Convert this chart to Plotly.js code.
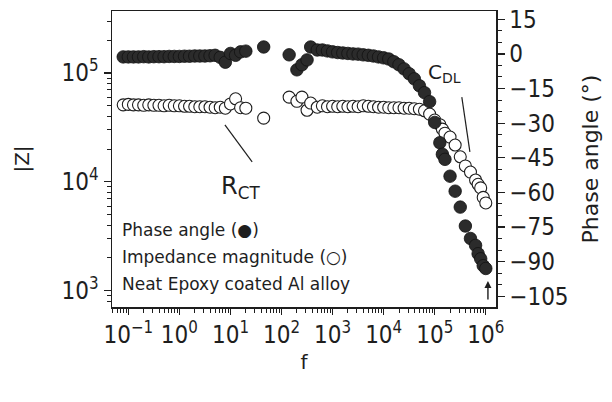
<!DOCTYPE html>
<html>
<head>
<meta charset="utf-8">
<script src="https://cdn.plot.ly/plotly-3.0.1.min.js"></script>
<style>
  html, body { margin: 0; padding: 0; background: #ffffff; }
  #chart { width: 612px; height: 402px; }
  #chart g.xtick text, #chart g.ytick text, #chart g.y2tick text { font-stretch: condensed !important; }
</style>
</head>
<body>
<div id="chart"></div>
<script>
// Frequency (Hz) of each measured point
const freq = [
  0.0794, 0.1, 0.126, 0.158, 0.2, 0.251, 0.316, 0.398, 0.501, 0.631, 0.794,
  1, 1.26, 1.58, 2, 2.51, 3.16, 3.98, 5.01, 6.31, 7.94,
  10, 12.6, 15.8, 20,
  44.7,
  141, 200, 251, 316, 372, 501,
  631, 794, 1000, 1259, 1585, 1995, 2512, 3162, 3981, 5012, 6310, 7943,
  10000, 12589, 15849, 19953, 25119, 31623, 39811, 50119, 63096, 79433,
  100000, 125893, 141254, 158489, 199526, 251189, 316228, 398107, 501187,
  630957, 707946, 794328, 891251, 1000000
];

// Phase angle (degrees), filled circles, right axis
const phase = [
  -1.3, -1.3, -1.3, -1.3, -1.2, -1.3, -1.2, -1.2, -1.2, -1.1, -1.1,
  -1.1, -1.0, -1.0, -0.9, -0.9, -0.9, -0.8, -0.6, -1.5, -3.6,
  0.2, -0.6, 0.9, 1.2,
  3.0,
  -0.4, -6.9, -4.7, -2.6, 3.0, 1.7,
  1.7, 1.3, 0.9, 0.6, 0.4, 0.2, 0.0, -0.1, -0.4, -0.6, -0.9, -1.3,
  -1.7, -2.2, -3.4, -4.7, -6.5, -8.6, -10.8, -13.8, -16.8, -20.7,
  -29.7, -38.5, -43.5, -45.7, -53, -59.5, -66.4, -74.6, -80,
  -83, -86.6, -88.8, -91.8, -93
];

// Impedance magnitude |Z| (ohm), open circles, left axis
const zmag = [
  51000, 51500, 51000, 51000, 50500, 51000, 50500, 50500, 50000, 50500, 50000,
  50000, 49500, 49500, 49000, 49000, 49000, 48500, 48000, 48500, 47500,
  52000, 58000, 48000, 47500,
  38500,
  60000, 55000, 60000, 45500, 53000, 48500,
  50000, 49000, 49500, 49000, 49500, 49000, 49500, 49000, 50000, 49500, 49000, 48500,
  48500, 48000, 48000, 48000, 47500, 47500, 47000, 46500, 45000, 42000,
  37000, 33500, 30500, 28000, 25800, 21800, 17000, 14000, 12300,
  10400, 9500, 8800, 7200, 6400
];

// Axis tick positions and labels
const freqTicks = [0.1, 1, 10, 100, 1000, 10000, 100000, 1000000];
const freqTickText = ["10<sup>\u22121</sup>", "10<sup>0</sup>", "10<sup>1</sup>", "10<sup>2</sup>",
                      "10<sup>3</sup>", "10<sup>4</sup>", "10<sup>5</sup>", "10<sup>6</sup>"];
const zTicks = [1000, 10000, 100000];
const zTickText = ["10<sup>3</sup>", "10<sup>4</sup>", "10<sup>5</sup>"];
const phaseTicks = [-105, -90, -75, -60, -45, -30, -15, 0, 15];
const phaseTickText = ["\u2212105", "\u221290", "\u221275", "\u221260", "\u221245", "\u221230", "\u221215", "0", "15"];
const legendLines = [
  "Phase angle (\u25CF)",
  "Impedance magnitude (\u25CB)",
  "Neat Epoxy coated Al alloy"
];

// log minor tick positions (2..9 x each decade) for the two log axes
function logMinor(d0, d1) {
  const out = [];
  for (let d = d0; d <= d1; d++) for (let m = 2; m <= 9; m++) out.push(m * Math.pow(10, d));
  return out;
}

const FONT = "DejaVu Sans, sans-serif";
const INK = "#1e1e1e";

const traces = [
  {
    x: freq, y: zmag, type: "scatter", mode: "markers", name: "Impedance magnitude",
    xaxis: "x", yaxis: "y",
    marker: { symbol: "circle", size: 12, color: "#ffffff", line: { color: INK, width: 1.1 } },
    hoverinfo: "skip"
  },
  {
    x: freq, y: phase, type: "scatter", mode: "markers", name: "Phase angle",
    xaxis: "x", yaxis: "y2",
    marker: { symbol: "circle", size: 12.5, color: "#2b2b2b", line: { color: "#111", width: 0.8 } },
    hoverinfo: "skip"
  }
];

const axisCommon = {
  showgrid: false, zeroline: false,
  showline: true, linecolor: INK, linewidth: 1.5,
  ticks: "outside", ticklen: 7, tickwidth: 1.2, tickcolor: INK,
  tickfont: { family: FONT, size: 24, color: INK }
};

const layout = {
  width: 612, height: 402,
  margin: { l: 112, r: 116, t: 11, b: 95 },
  paper_bgcolor: "#ffffff", plot_bgcolor: "#ffffff",
  showlegend: false,
  font: { family: FONT, color: INK },
  xaxis: Object.assign({}, axisCommon, {
    type: "log", range: [-1.32, 6.2],
    tickmode: "array", tickvals: freqTicks, ticktext: freqTickText, ticklen: 6,
    mirror: true,
    minor: { tickmode: "array", tickvals: logMinor(-2, 6), ticks: "outside", ticklen: 4, tickcolor: INK, tickwidth: 1 },
    title: { text: "f", font: { family: FONT, size: 20, color: INK }, standoff: 6 }
  }),
  yaxis: Object.assign({}, axisCommon, {
    type: "log", range: [2.85, 5.57],
    tickmode: "array", tickvals: zTicks, ticktext: zTickText,
    minor: { tickmode: "array", tickvals: logMinor(2, 5), ticks: "outside", ticklen: 4, tickcolor: INK, tickwidth: 1 },
    title: { text: "|Z|", font: { family: FONT, size: 20, color: INK }, standoff: 22 }
  }),
  yaxis2: Object.assign({}, axisCommon, {
    overlaying: "y", side: "right", range: [-109.7, 18.6],
    tickmode: "array", tickvals: phaseTicks, ticktext: phaseTickText,
    minor: { ticks: "outside", ticklen: 4, tickcolor: INK, tickwidth: 1, dtick: 5, tick0: 0 },
    title: { text: "Phase angle (\u00B0)", font: { family: FONT, size: 22, color: INK }, standoff: 8 }
  }),
  annotations: [
    { xref: "paper", yref: "paper", x: 0.021, y: 0.26, xanchor: "left", yanchor: "middle",
      text: legendLines[0], showarrow: false, font: { family: FONT, size: 17, color: INK } },
    { xref: "paper", yref: "paper", x: 0.021, y: 0.169, xanchor: "left", yanchor: "middle",
      text: legendLines[1], showarrow: false, font: { family: FONT, size: 17, color: INK } },
    { xref: "paper", yref: "paper", x: 0.021, y: 0.078, xanchor: "left", yanchor: "middle",
      text: legendLines[2], showarrow: false, font: { family: FONT, size: 17, color: INK } },
    { xref: "paper", yref: "paper", x: 0.335, y: 0.405, xanchor: "center", yanchor: "middle",
      text: "R<sub>CT</sub>", showarrow: false, font: { family: FONT, size: 24, color: INK } },
    { xref: "paper", yref: "paper", x: 0.865, y: 0.79, xanchor: "center", yanchor: "middle",
      text: "C<sub>DL</sub>", showarrow: false, font: { family: FONT, size: 20, color: INK } },
    { xref: "paper", yref: "paper", x: 0.979, y: 0.088, ax: 0, ay: 20,
      text: "", showarrow: true, arrowhead: 2, arrowsize: 1, arrowwidth: 1.4, arrowcolor: INK }
  ],
  shapes: [
    { type: "line", xref: "paper", yref: "paper", x0: 0.294, y0: 0.615, x1: 0.365, y1: 0.49,
      line: { color: INK, width: 1.2 } },
    { type: "line", xref: "paper", yref: "paper", x0: 0.911, y0: 0.709, x1: 0.932, y1: 0.524,
      line: { color: INK, width: 1.2 } }
  ]
};

Plotly.newPlot("chart", traces, layout, { displayModeBar: false, staticPlot: true });
</script>
</body>
</html>
